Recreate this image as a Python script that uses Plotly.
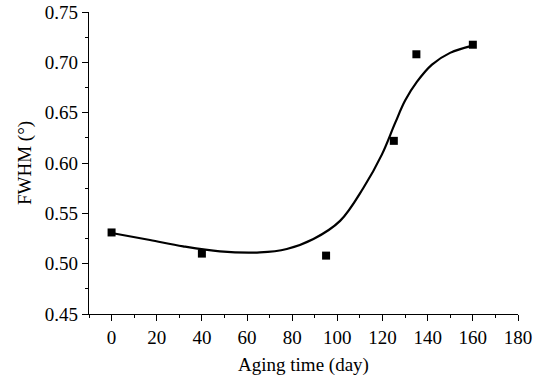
import plotly.graph_objects as go

days = [0, 40, 95, 125, 135, 160]
fwhm = [0.531, 0.510, 0.508, 0.622, 0.708, 0.7175]

curve_days = [0.0, 17.0, 31.7, 48.0, 65.7, 77.6, 89.4, 101.2, 111.5, 119.7,
              125.6, 130.0, 135.2, 141.9, 149.9, 160.3]
curve_fwhm = [0.5305, 0.5235, 0.5172, 0.5122, 0.5112, 0.5146, 0.5245, 0.5425, 0.5752, 0.6083,
              0.6398, 0.6620, 0.6805, 0.6977, 0.7094, 0.7169]

x_ticks = [0, 20, 40, 60, 80, 100, 120, 140, 160, 180]
y_ticks = [0.45, 0.50, 0.55, 0.60, 0.65, 0.70, 0.75]

font = dict(family="Liberation Serif", size=19, color="black")

fig = go.Figure()
fig.add_trace(go.Scatter(x=curve_days, y=curve_fwhm, mode="lines",
                         line=dict(color="black", width=2.2, shape="spline", smoothing=1.0),
                         showlegend=False, hoverinfo="skip"))
fig.add_trace(go.Scatter(x=days, y=fwhm, mode="markers",
                         marker=dict(symbol="square", size=8, color="black"),
                         showlegend=False))

fig.update_layout(
    width=544, height=380,
    margin=dict(l=89, r=26, t=12, b=66),
    paper_bgcolor="white", plot_bgcolor="white",
    font=font,
    xaxis=dict(range=[-10, 180], tickvals=x_ticks, ticktext=[str(v) for v in x_ticks],
               automargin=False,
               showline=True, linecolor="black", linewidth=1.2, mirror=False,
               ticks="outside", ticklen=6, tickwidth=1.2, tickcolor="black",
               minor=dict(ticks="outside", ticklen=3, tickwidth=1, tickcolor="black", dtick=10, tick0=0),
               showgrid=False, zeroline=False,
               title=dict(text="Aging time (day)", font=font, standoff=10)),
    yaxis=dict(range=[0.45, 0.75], tickvals=y_ticks, ticktext=[f"{v:.2f}" for v in y_ticks],
               automargin=False,
               showline=True, linecolor="black", linewidth=1.2, mirror=False,
               ticks="outside", ticklen=6, tickwidth=1.2, tickcolor="black",
               minor=dict(ticks="outside", ticklen=3, tickwidth=1, tickcolor="black", dtick=0.025, tick0=0.45),
               showgrid=False, zeroline=False,
               title=dict(text="FWHM (°)", font=font, standoff=8)),
)

fig.write_html("out.html", config={"displayModeBar": False},
               post_script="document.body.style.margin='0';")
